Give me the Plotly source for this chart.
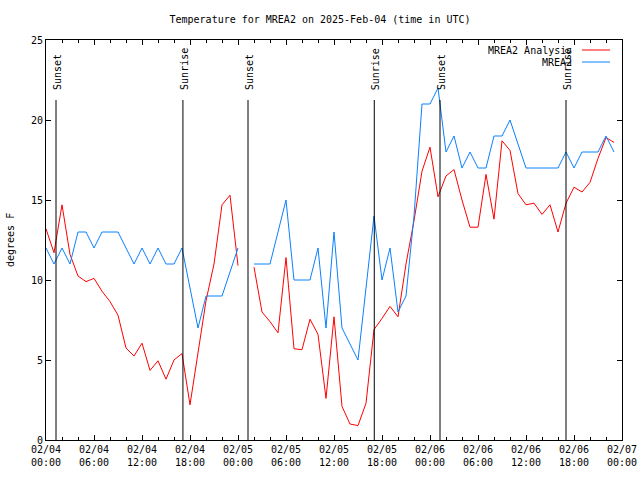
import pandas as pd
import plotly.graph_objects as go

start_time = "2025-02-04 00:00"
n_hours = 72
times = pd.date_range(start_time, periods=n_hours, freq="h")

analysis_vals = [
    13.2, 11.7, 14.7, 11.6, 10.25, 9.9, 10.1, 9.3, 8.65, 7.8,
    5.75, 5.25, 6.05, 4.35, 4.95, 3.8, 5.0, 5.4, 2.2, 5.5,
    8.7, 11.0, 14.7, 15.3, 10.9, None, 10.8, 8.0, 7.4, 6.7,
    11.4, 5.7, 5.65, 7.55, 6.6, 2.6, 7.7, 2.1, 1.0, 0.9,
    2.3, 6.9, 7.6, 8.35, 7.7, 11.0, 13.7, 16.8, 18.3, 15.2,
    16.5, 16.9, 15.0, 13.3, 13.3, 16.6, 13.8, 18.7, 18.1, 15.4,
    14.7, 14.8, 14.1, 14.7, 13.0, 14.8, 15.8, 15.5, 16.1, 17.6,
    18.9, 18.6,
]

obs_vals = [
    12, 11, 12, 11, 13, 13, 12, 13, 13, 13,
    12, 11, 12, 11, 12, 11, 11, 12, 9.5, 7,
    9, 9, 9, 10.5, 12, None, 11, 11, 11, 13,
    15, 10, 10, 10, 12, 7, 13, 7, 6, 5,
    9.5, 14, 10, 12, 8, 9, 14, 21, 21, 22,
    18, 19, 17, 18, 17, 17, 19, 19, 20, 18.5,
    17, 17, 17, 17, 17, 18, 17, 18, 18, 18,
    19, 18,
]

sun_event_times = ["2025-02-04 01:15", "2025-02-04 17:07", "2025-02-05 01:15",
                   "2025-02-05 17:02", "2025-02-06 01:15", "2025-02-06 17:00"]
sun_event_labels = ["Sunset", "Sunrise", "Sunset", "Sunrise", "Sunset", "Sunrise"]

series_names = ["MREA2 Analysis", "MREA2"]
series_colors = ["#ff0000", "#0a80ff"]

y_ticks = [0, 5, 10, 15, 20, 25]
x_range = ["2025-02-04 00:00", "2025-02-07 00:00"]

FONT = "DejaVu Sans Mono"
FS = 10
LINE_TOP = 21.25
LABEL_BASE = 21.75

L, R, T, B = 46, 18, 40, 40
W, H = 640, 480
PW, PH = W - L - R, H - T - B

fig = go.Figure()
fig.add_trace(go.Scatter(x=times, y=analysis_vals, mode="lines",
                         line=dict(color=series_colors[0], width=1),
                         name=series_names[0], connectgaps=False))
fig.add_trace(go.Scatter(x=times, y=obs_vals, mode="lines",
                         line=dict(color=series_colors[1], width=1),
                         name=series_names[1], connectgaps=False))

shapes = []
annotations = []
for t, lab in zip(sun_event_times, sun_event_labels):
    shapes.append(dict(type="line", xref="x", yref="y", x0=t, x1=t, y0=0, y1=LINE_TOP,
                       line=dict(color="black", width=1)))
    annotations.append(dict(x=t, y=LABEL_BASE, xref="x", yref="y", text=lab,
                            showarrow=False, textangle=-90, xanchor="center",
                            yanchor="bottom", xshift=1,
                            font=dict(family=FONT, size=FS, color="black")))


def px_x(p):
    return (p - L) / PW


def px_y(p):
    return (H - B - p) / PH


leg_rows = [50, 62]
for name, col, ry in zip(series_names, series_colors, leg_rows):
    annotations.append(dict(x=px_x(574), y=px_y(ry), xref="paper", yref="paper",
                            text=name, showarrow=False, xanchor="right", yanchor="middle",
                            font=dict(family=FONT, size=FS, color="black")))
    shapes.append(dict(type="line", xref="paper", yref="paper",
                       x0=px_x(582), x1=px_x(610), y0=px_y(ry), y1=px_y(ry),
                       line=dict(color=col, width=1)))

annotations.append(dict(x=px_x(10), y=0.5, xref="paper", yref="paper",
                        text="degrees F", showarrow=False, textangle=-90,
                        xanchor="center", yanchor="middle",
                        font=dict(family=FONT, size=FS, color="black")))

fig.update_layout(
    width=W, height=H,
    margin=dict(l=L, r=R, t=T, b=B, pad=0, autoexpand=False),
    paper_bgcolor="white", plot_bgcolor="white",
    showlegend=False,
    font=dict(family=FONT, size=FS, color="black"),
    title=dict(text="Temperature for MREA2 on 2025-Feb-04 (time in UTC)",
               x=0.5, xanchor="center", y=1 - 19 / H, yanchor="middle",
               font=dict(family=FONT, size=FS, color="black")),
    shapes=shapes, annotations=annotations,
)

fig.update_xaxes(
    type="date", range=x_range, automargin=False,
    tickformat="%m/%d<br>%H:%M", dtick=6 * 3600 * 1000, tick0="2025-02-04 00:00",
    ticks="inside", ticklen=5, tickcolor="black", tickwidth=1,
    minor=dict(dtick=2 * 3600 * 1000, ticks="inside", ticklen=3, tickcolor="black", tickwidth=1),
    showline=True, linecolor="black", linewidth=1, mirror="ticks",
    showgrid=False, zeroline=False,
    tickfont=dict(family=FONT, size=FS, color="black"),
)
fig.update_yaxes(
    range=[0, 25], tickvals=y_ticks, automargin=False,
    ticks="inside", ticklen=5, tickcolor="black", tickwidth=1,
    showline=True, linecolor="black", linewidth=1, mirror="ticks",
    showgrid=False, zeroline=False,
    tickfont=dict(family=FONT, size=FS, color="black"),
)

fig.write_html("out.html", config={"displayModeBar": False},
               post_script="document.body.style.margin='0';document.body.style.padding='0';")
